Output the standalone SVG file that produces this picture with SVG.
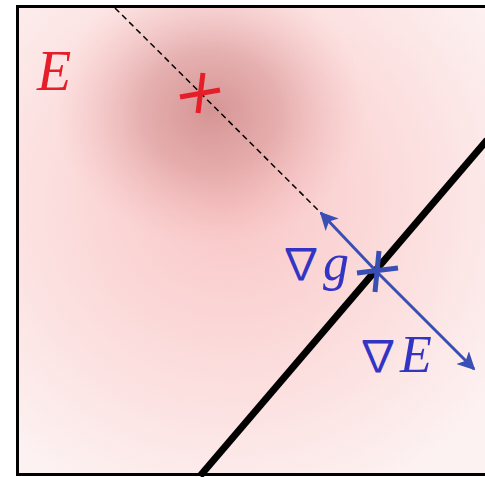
<svg xmlns="http://www.w3.org/2000/svg" width="485" height="477" viewBox="0 0 485 477">
  <defs>
    <radialGradient id="field" gradientUnits="userSpaceOnUse" cx="230" cy="200" r="330">
      <stop offset="0" stop-color="#f9c6c6"/>
      <stop offset="0.55" stop-color="#fcdede"/>
      <stop offset="1" stop-color="#fdf2f2"/>
    </radialGradient>
    <radialGradient id="blob" gradientUnits="userSpaceOnUse" cx="210" cy="110" r="135" gradientTransform="translate(210 110) scale(1.15 1) translate(-210 -110)">
      <stop offset="0" stop-color="#cc8484" stop-opacity="0.8"/>
      <stop offset="0.45" stop-color="#d59090" stop-opacity="0.55"/>
      <stop offset="1" stop-color="#f0b0b0" stop-opacity="0"/>
    </radialGradient>
    <marker id="ah" viewBox="0 0 10 10" refX="9" refY="5" markerWidth="6" markerHeight="6" orient="auto" markerUnits="strokeWidth">
      <path d="M0,0 L10,5 L0,10 L2.5,5 Z" fill="#3a4fb5"/>
    </marker>
    <style>
      .lbl { font-family: "Liberation Serif", "DejaVu Serif", serif; }
      .nab { font-family: "Noto Sans CJK JP", "Noto Sans CJK SC", sans-serif; }
      .red { fill: #e51f2a; }
      .blue { fill: #3434c4; }
      .vec { stroke: #3a4fb5; stroke-width: 3; fill: none; marker-end: url(#ah); }
    </style>
  </defs>
  <rect x="0" y="0" width="485" height="477" fill="#ffffff"/>
  <g id="background">
    <rect x="17.5" y="6.5" width="480" height="468" fill="url(#field)"/>
    <rect x="17.5" y="6.5" width="480" height="468" fill="url(#blob)"/>
  </g>
  <g id="connectors">
    <line x1="115" y1="8" x2="322" y2="214" stroke="#000" stroke-width="1.5" stroke-dasharray="6,4"/>
    <line x1="200" y1="476" x2="487" y2="140" stroke="#000" stroke-width="7"/>
    <line x1="376" y1="271" x2="321" y2="213" class="vec"/>
    <line x1="376" y1="271" x2="474" y2="369" class="vec"/>
  </g>
  <g id="frame">
    <rect x="17.5" y="6.5" width="480" height="468" fill="none" stroke="#000" stroke-width="3"/>
  </g>
  <g id="minimum">
    <line x1="180" y1="97" x2="220" y2="90" stroke="#e51f2a" stroke-width="5"/>
    <line x1="203" y1="73" x2="198" y2="113" stroke="#e51f2a" stroke-width="5"/>
  </g>
  <g id="point">
    <line x1="357" y1="273" x2="398" y2="268" stroke="#3a4fb5" stroke-width="5"/>
    <line x1="379" y1="251" x2="375" y2="292" stroke="#3a4fb5" stroke-width="5"/>
  </g>
  <g id="label-E">
    <text x="37" y="90" class="lbl red" font-size="56" font-style="italic">E</text>
  </g>
  <g id="label-grad-g">
    <text x="279" y="280" class="lbl blue" font-size="52"><tspan class="nab" font-size="44">∇</tspan><tspan font-style="italic">g</tspan></text>
  </g>
  <g id="label-grad-E">
    <text x="356" y="372" class="lbl blue" font-size="52"><tspan class="nab" font-size="44">∇</tspan><tspan font-style="italic">E</tspan></text>
  </g>
</svg>
